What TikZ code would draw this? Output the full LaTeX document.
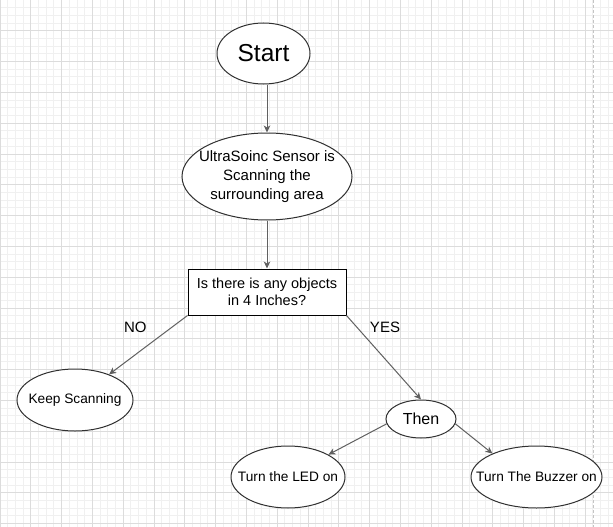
\documentclass[tikz,border=0pt]{standalone}
\usepackage{fontspec}
\setmainfont{Liberation Sans}
\usetikzlibrary{shapes.geometric,arrows.meta}
\definecolor{minorgrid}{HTML}{F0F0F0}
\definecolor{majorgrid}{HTML}{DCDCDC}
\definecolor{pageline}{HTML}{C4C4C4}
\definecolor{edgecol}{HTML}{606060}
\definecolor{shapecol}{HTML}{303030}
\tikzset{
  oval/.style={ellipse, draw=shapecol, line width=1pt, fill=white, inner sep=0pt},
  ovaltext/.style={label={[align=center, text=black, inner sep=0pt, #1]center:}},
  boxnode/.style={rectangle, draw=black, line width=1pt, fill=white, inner sep=0pt, align=center, text=black},
  conn/.style={draw=edgecol, line width=1pt, -{Stealth[length=7pt,width=6.5pt,inset=2pt]}},
  lbl/.style={text=black, inner sep=0pt, font=\fontsize{15}{18}\selectfont}
}
\begin{document}
\begin{tikzpicture}[x=1pt,y=-1pt]
\useasboundingbox (0,0) rectangle (613,527);
\fill[white] (0,0) rectangle (613,527);
% grid
\foreach \i in {1,...,80} {
  \pgfmathsetmacro{\p}{7.7*\i}
  \draw[minorgrid, line width=1pt] (\p,0) -- (\p,527);
  \draw[minorgrid, line width=1pt] (0,\p) -- (613,\p);
}
\foreach \i in {0,...,20} {
  \pgfmathsetmacro{\p}{30.8*\i}
  \draw[majorgrid, line width=1pt] (\p,0) -- (\p,527);
  \draw[majorgrid, line width=1pt] (0,\p) -- (613,\p);
}
\draw[pageline, line width=1.3pt, dash pattern=on 3pt off 2pt] (593.7,0) -- (593.7,527);

% nodes
\node[oval, minimum width=93pt, minimum height=61pt,
  label={[align=center, inner sep=0pt, font=\fontsize{24.5}{28}\selectfont]center:Start}] (start) at (263.5,53.5) {};
\node[oval, minimum width=170pt, minimum height=87pt,
  label={[align=center, inner sep=0pt, font=\fontsize{15}{19}\selectfont]center:UltraSoinc Sensor is\\Scanning the\\surrounding area}] (sensor) at (267,176.5) {};
\node[boxnode, minimum width=158pt, minimum height=46pt, font=\fontsize{14.5}{17.4}\selectfont] (box) at (267,292) {Is there is any objects\\in 4 Inches?};
\node[oval, minimum width=116pt, minimum height=62pt,
  label={[align=center, inner sep=0pt, font=\fontsize{13.7}{16}\selectfont]center:Keep Scanning}] (keep) at (75,400) {};
\node[oval, minimum width=70pt, minimum height=38pt,
  label={[align=center, inner sep=0pt, font=\fontsize{16}{19}\selectfont]center:Then}] (then) at (421,419) {};
\node[oval, minimum width=114pt, minimum height=62pt,
  label={[align=center, inner sep=0pt, font=\fontsize{13.7}{16}\selectfont]center:Turn the LED on}] (led) at (288,477) {};
\node[oval, minimum width=131pt, minimum height=62pt,
  label={[align=center, inner sep=0pt, font=\fontsize{13.7}{16}\selectfont]center:Turn The Buzzer on}] (buzz) at (536.5,477) {};

\node[lbl] (nolbl) at (135.3,327) {NO};
\node[lbl] (yeslbl) at (385,327) {YES};

% connectors
\draw[conn] (start.south -| sensor.north) -- (sensor.north);
\draw[conn] (sensor.south) -- (box.north);
\draw[conn] (box.south west) -- (keep);
\draw[conn] (box.south east) -- (then.north);
\draw[conn] (then.188) -- (led.29);
\draw[conn] (then.-8) -- (buzz.152);
\end{tikzpicture}
\end{document}
